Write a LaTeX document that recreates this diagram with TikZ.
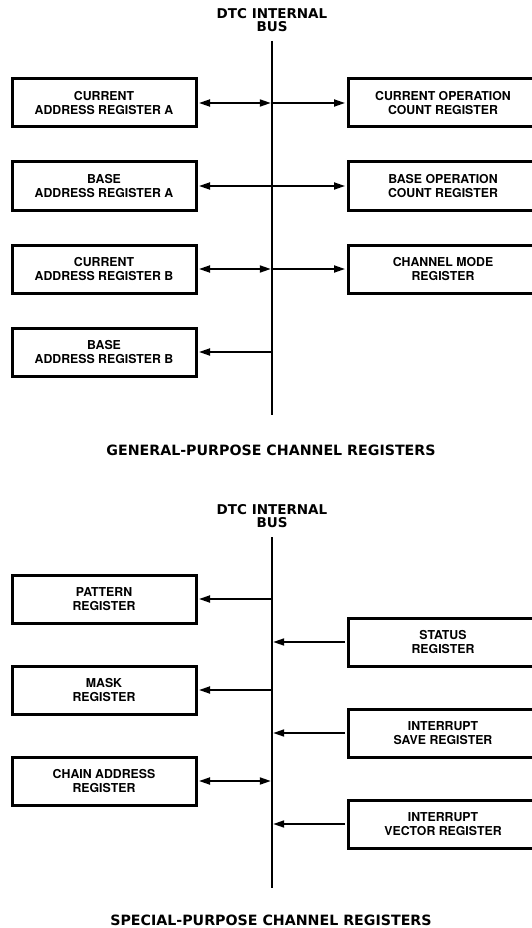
\documentclass[tikz,border=0pt]{standalone}
\usepackage{fontspec}
\setmainfont{TeX Gyre Heros}
\newfontfamily\heavyfont{DejaVu Sans}
\usetikzlibrary{positioning,arrows.meta}

\begin{document}
\begin{tikzpicture}[
    x=1pt, y=1pt,
    node distance=29pt and 146pt,
    >={Triangle[length=11pt,width=7pt]},
    reg/.style={rectangle, draw, line width=3pt, outer sep=3pt,
        minimum width=184pt, minimum height=48pt, align=center, inner sep=2pt,
        font=\bfseries\fontsize{12.3}{13.5}\selectfont},
    wide/.style={reg, minimum width=190pt},
    bus/.style={line width=2.5pt},
    link/.style={line width=1.8pt, ->},
    both/.style={line width=1.8pt, <->},
    tobus/.style={shorten >=1.2pt},
    busname/.style={align=center, inner sep=0pt, font=\heavyfont\bfseries\fontsize{13.5}{13.5}\selectfont},
    caption/.style={font=\heavyfont\bfseries\fontsize{14.2}{16}\selectfont},
]
\useasboundingbox (0,0) rectangle (531,-928);

% general-purpose registers
\node[busname] (gname) at (272,-20) {DTC INTERNAL\\BUS};
\coordinate (gtop) at (272,-41);
\coordinate (gbot) at (272,-415);
\draw[bus] (gtop) -- (gbot);

\node[reg] (cura) at (104,-103) {CURRENT\\ADDRESS REGISTER A};
\node[reg, below=of cura] (basea) {BASE\\ADDRESS REGISTER A};
\node[reg, below=of basea] (curb) {CURRENT\\ADDRESS REGISTER B};
\node[reg, below=of curb] (baseb) {BASE\\ADDRESS REGISTER B};
\node[wide, right=of cura] (curop) {CURRENT OPERATION\\COUNT REGISTER};
\node[wide, right=of basea] (baseop) {BASE OPERATION\\COUNT REGISTER};
\node[wide, right=of curb] (mode) {CHANNEL MODE\\REGISTER};

\draw[both, tobus] (cura) -- (cura -| gtop);
\draw[link] (cura -| gtop) -- (curop);
\draw[both] (basea) -- (baseop);
\draw[both, tobus] (curb) -- (curb -| gtop);
\draw[link] (curb -| gtop) -- (mode);
\draw[link] (baseb -| gtop) -- (baseb);

\node[caption] (gcap) at (271,-450) {GENERAL-PURPOSE CHANNEL REGISTERS};

% special-purpose registers
\node[busname] (sname) at (272,-516) {DTC INTERNAL\\BUS};
\coordinate (stop) at (272,-537);
\coordinate (sbot) at (272,-888);
\draw[bus] (stop) -- (sbot);

\node[reg] (pat) at (104,-599) {PATTERN\\REGISTER};
\node[reg, below=37pt of pat] (mask) {MASK\\REGISTER};
\node[reg, below=37pt of mask] (chain) {CHAIN ADDRESS\\REGISTER};
\node[wide] (stat) at (443,-642) {STATUS\\REGISTER};
\node[wide, below=37pt of stat] (save) {INTERRUPT\\SAVE REGISTER};
\node[wide, below=37pt of save] (vect) {INTERRUPT\\VECTOR REGISTER};

\draw[link] (pat -| stop) -- (pat);
\draw[link, tobus] (stat) -- (stat -| stop);
\draw[link] (mask -| stop) -- (mask);
\draw[link, tobus] (save) -- (save -| stop);
\draw[both, tobus] (chain) -- (chain -| stop);
\draw[link, tobus] (vect) -- (vect -| stop);

\node[caption] (scap) at (271,-920.5) {SPECIAL-PURPOSE CHANNEL REGISTERS};
\end{tikzpicture}
\end{document}
